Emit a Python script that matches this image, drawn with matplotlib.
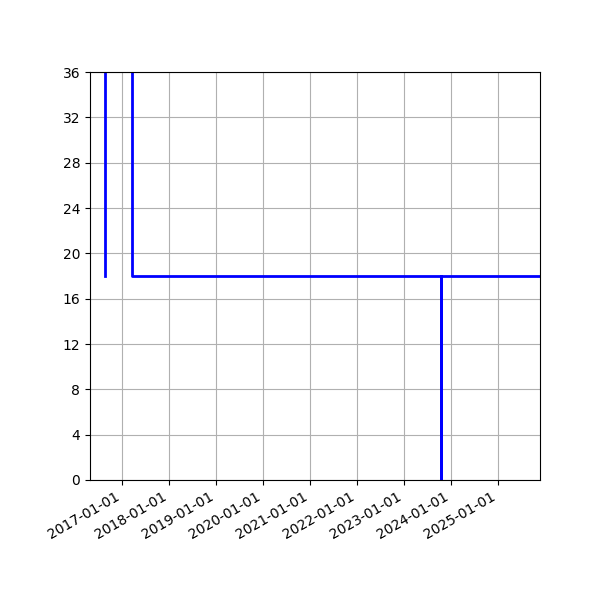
import matplotlib
matplotlib.use("Agg")
import matplotlib.pyplot as plt
import matplotlib.dates as mdates
import numpy as np

# step series (value held until next date)
dates = np.array(['2016-08-22', '2016-08-22', '2017-03-18',
                  '2023-10-19', '2023-10-19', '2025-11-28'], dtype='datetime64[D]')
values = [18, 100, 18, 0, 18, 18]

x_start = np.datetime64('2016-04-24')
x_end = np.datetime64('2025-11-28')
y_ticks = list(range(0, 37, 4))

fig, ax = plt.subplots(figsize=(6, 6), dpi=100)
fig.subplots_adjust(left=0.15, right=0.9, top=0.88, bottom=0.2)

ax.plot(dates, values, drawstyle='steps-post', color='blue', linewidth=2)

ax.set_xlim(x_start, x_end)
ax.set_ylim(0, 36)
ax.set_yticks(y_ticks)
ax.xaxis.set_major_locator(mdates.YearLocator())
ax.xaxis.set_major_formatter(mdates.DateFormatter('%Y-%m-%d'))
ax.grid(True, color='#b0b0b0')
ax.set_axisbelow(True)

for lbl in ax.get_xticklabels():
    lbl.set_rotation(30)
    lbl.set_ha('right')

fig.savefig('out.png')
